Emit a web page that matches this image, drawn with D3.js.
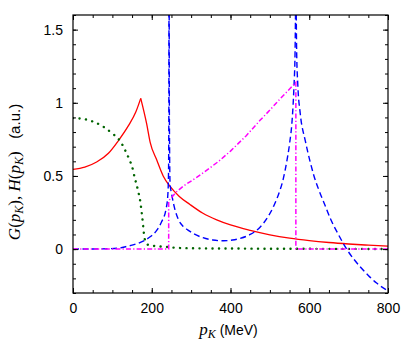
<!DOCTYPE html>
<html>
<head>
<meta charset="utf-8">
<script src="https://cdn.jsdelivr.net/npm/d3@7"></script>
<style>
  html, body { margin: 0; padding: 0; background: #fff; }
  svg { display: block; }
  .tick text { font-family: "Liberation Sans", Arial, sans-serif; font-size: 14px; fill: #000; }
</style>
</head>
<body>
<svg id="chart" width="415" height="356"></svg>
<script>
// ---------------- data ----------------
const xDomain = [0, 800];
const yDomain = [-0.3, 1.6];
const xMajorTicks = [0, 200, 400, 600, 800];
const xMinorTicks = d3.range(0, 801, 50);
const yMajorTicks = [0, 0.5, 1, 1.5];
const yTickLabels = ["0", "0.5", "1", "1.5"];
const yMinorTicks = d3.range(-3, 17, 1).map(v => v / 10);

// G(p_K): red solid (cusp at the peak -> two segments)
const redRise = [[0,0.545],[30,0.56],[60,0.595],[90,0.655],[115,0.74],[140,0.84],[160,0.94],[172,1.03]];
const redFall = [[172,1.03],[187,0.857],[196,0.73],[213,0.607],[229,0.5],[246,0.43],[270,0.36],[297,0.305],
  [330,0.245],[365,0.2],[400,0.165],[450,0.128],[500,0.098],[550,0.075],[600,0.058],[650,0.045],
  [700,0.035],[750,0.027],[800,0.02]];

// green dotted
const green = [[0,0.895],[25,0.89],[50,0.872],[75,0.84],[100,0.79],[115,0.755],[128,0.70],[136,0.655],
  [145,0.6],[150,0.565],[157,0.485],[162,0.435],[166,0.39],[170,0.34],[174,0.26],[177,0.19],[180,0.11],
  [183,0.06],[190,0.03],[200,0.024],[220,0.018],[240,0.014],[260,0.009],[300,0.006],[400,0.004],
  [600,0.002],[800,0.001]];

// blue dashed (poles near 243.8 and 566)
const blueA = [[0,0],[50,0.001],[94,0.003],[120,0.008],[136,0.018],[150,0.027],[170,0.045],[196,0.084],
  [213,0.13],[225,0.187],[236,0.27],[240.5,0.357],[242.5,0.5],[243.4,0.9],[243.8,1.8]];
const blueB = [[244.2,1.8],[244.8,0.9],[246.5,0.45],[251,0.37],[258,0.28],[268,0.2],[280,0.155],[292,0.13],
  [310,0.1],[330,0.078],[355,0.062],[382,0.057],[405,0.062],[424,0.073],[450,0.1],[475,0.15],[495,0.22],
  [509,0.29],[520,0.36],[534,0.48],[543,0.6],[550,0.72],[557,0.9],[561,1.1],[564,1.35],[565.8,1.8]];
const blueC = [[566.4,1.8],[568,1.35],[571,1.12],[577,0.93],[590,0.74],[602,0.6],[612,0.5],[625,0.4],
  [640,0.3],[655,0.2],[672,0.11],[695,0.0],[729,-0.12],[750,-0.18],[771,-0.232],[800,-0.285]];

// magenta dash-dot
const magenta = [[0,0],[243,0],[243,0.33],[262,0.39],[280,0.43],[314,0.49],[340,0.54],[370,0.6],[400,0.67],
  [440,0.775],[475,0.88],[500,0.95],[520,1.01],[545,1.08],[566,1.14],[566,0],[800,0]];

// ---------------- layout ----------------
const svg = d3.select("#chart");
const L = 73, R = 388, T = 15, B = 293;
const x = d3.scaleLinear().domain(xDomain).range([L, R]);
const y = d3.scaleLinear().domain(yDomain).range([B, T]);

svg.append("defs").append("clipPath").attr("id", "clip")
  .append("rect").attr("x", L).attr("y", T).attr("width", R - L).attr("height", B - T);

const plot = svg.append("g").attr("clip-path", "url(#clip)");
const lineS = d3.line().x(d => x(d[0])).y(d => y(d[1])).curve(d3.curveMonotoneX);
const lineL = d3.line().x(d => x(d[0])).y(d => y(d[1]));

// red
[redRise, redFall].forEach(seg => plot.append("path").attr("d", lineS(seg))
  .attr("fill", "none").attr("stroke", "#ff0000").attr("stroke-width", 1.3));
// green
plot.append("path").attr("d", lineS(green)).attr("fill", "none")
  .attr("stroke", "#006400").attr("stroke-width", 2.4).attr("stroke-linecap", "round")
  .attr("stroke-dasharray", "0.1,6.4");
// blue
[blueA, blueB, blueC].forEach(seg => plot.append("path").attr("d", lineS(seg))
  .attr("fill", "none").attr("stroke", "#0000ff").attr("stroke-width", 1.4)
  .attr("stroke-dasharray", "6,3.5"));
// magenta
plot.append("path").attr("d", lineL(magenta)).attr("fill", "none")
  .attr("stroke", "#ff00ff").attr("stroke-width", 1.5)
  .attr("stroke-dasharray", "5,2.2,1.2,2.2");

// ---------------- axes ----------------
function clean(g) { g.select(".domain").remove(); g.selectAll(".tick line").attr("stroke", "#000"); }
svg.append("g").attr("transform", `translate(0,${B})`)
  .call(d3.axisBottom(x).tickValues(xMinorTicks).tickSize(-3).tickFormat(""))
  .call(clean);
svg.append("g").attr("transform", `translate(0,${B})`)
  .call(d3.axisBottom(x).tickValues(xMajorTicks).tickSize(-5).tickPadding(10).tickFormat(d3.format("d")))
  .call(clean);
svg.append("g").attr("transform", `translate(0,${T})`)
  .call(d3.axisTop(x).tickValues(xMinorTicks).tickSize(-3).tickFormat(""))
  .call(clean);
svg.append("g").attr("transform", `translate(0,${T})`)
  .call(d3.axisTop(x).tickValues(xMajorTicks).tickSize(-5).tickFormat(""))
  .call(clean);
svg.append("g").attr("transform", `translate(${L},0)`)
  .call(d3.axisLeft(y).tickValues(yMinorTicks).tickSize(-3).tickFormat(""))
  .call(clean);
svg.append("g").attr("transform", `translate(${L},0)`)
  .call(d3.axisLeft(y).tickValues(yMajorTicks).tickSize(-5).tickPadding(10)
    .tickFormat((d, i) => yTickLabels[i]))
  .call(clean);
svg.append("g").attr("transform", `translate(${R},0)`)
  .call(d3.axisRight(y).tickValues(yMinorTicks).tickSize(-3).tickFormat(""))
  .call(clean);
svg.append("g").attr("transform", `translate(${R},0)`)
  .call(d3.axisRight(y).tickValues(yMajorTicks).tickSize(-5).tickFormat(""))
  .call(clean);

svg.append("rect").attr("x", L).attr("y", T).attr("width", R - L).attr("height", B - T)
  .attr("fill", "none").attr("stroke", "#000").attr("stroke-width", 1.2);

// ---------------- labels ----------------
const serif = '"Liberation Serif", "DejaVu Serif", serif';
const sans = '"Liberation Sans", Arial, sans-serif';
const xl = svg.append("text").attr("x", (L + R) / 2 - 2).attr("y", 335).attr("text-anchor", "middle").attr("fill", "#000");
xl.append("tspan").attr("font-family", serif).attr("font-style", "italic").attr("font-size", 17).text("p");
xl.append("tspan").attr("font-family", serif).attr("font-style", "italic").attr("font-size", 12).attr("dy", 3).text("K");
xl.append("tspan").attr("font-family", sans).attr("font-size", 14).attr("dy", -3).text(" (MeV)");

const yl = svg.append("text").attr("transform", "translate(20,172) rotate(-90)")
  .attr("text-anchor", "middle").attr("fill", "#000");
function math(parent, letter) {
  parent.append("tspan").attr("font-family", serif).attr("font-style", "italic").attr("font-size", 17).text(letter);
  parent.append("tspan").attr("font-family", serif).attr("font-size", 17).text("(");
  parent.append("tspan").attr("font-family", serif).attr("font-style", "italic").attr("font-size", 17).text("p");
  parent.append("tspan").attr("font-family", serif).attr("font-style", "italic").attr("font-size", 12).attr("dy", 3).text("K");
  parent.append("tspan").attr("font-family", serif).attr("font-size", 17).attr("dy", -3).text(")");
}
math(yl, "G");
yl.append("tspan").attr("font-family", serif).attr("font-size", 17).text(", ");
math(yl, "H");
yl.append("tspan").attr("font-family", sans).attr("font-size", 15).text("\u00a0\u00a0\u00a0(a.u.)");
</script>
</body>
</html>
